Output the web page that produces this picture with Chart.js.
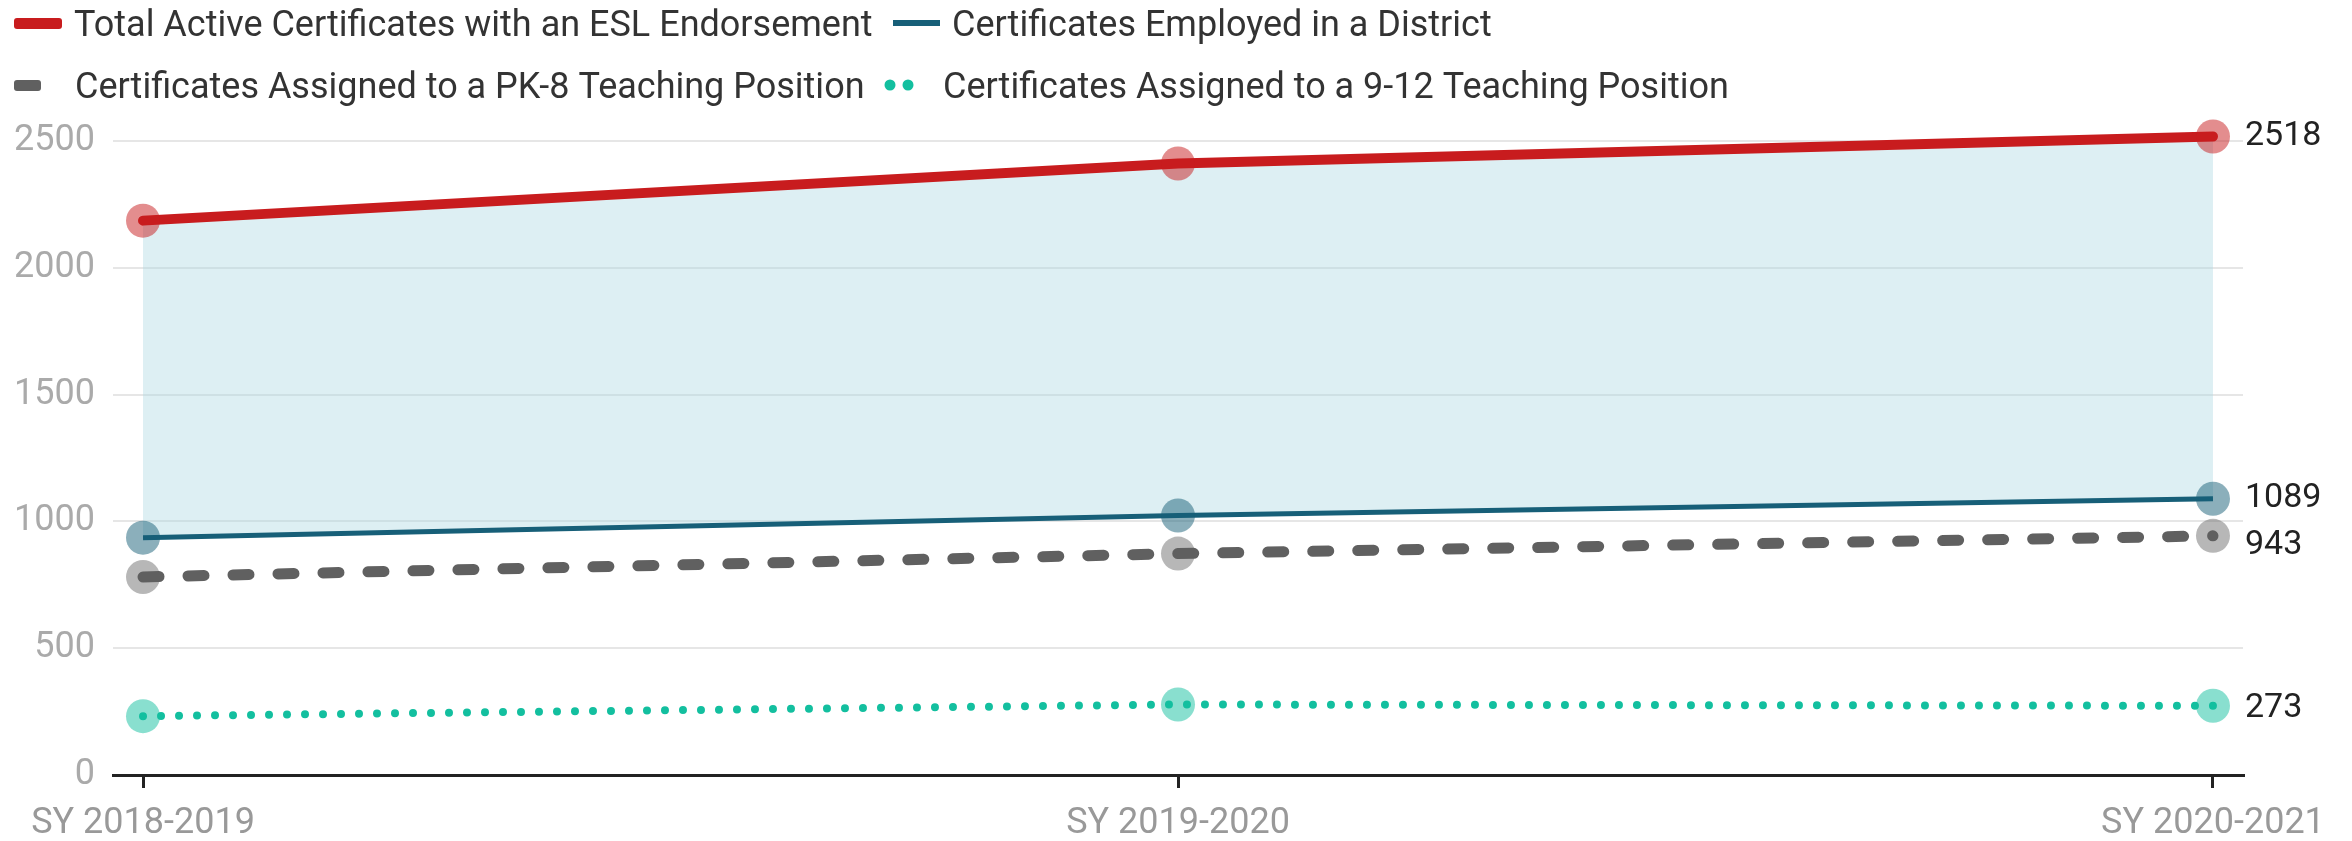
<!DOCTYPE html>
<html>
<head>
<meta charset="utf-8">
<script src="https://cdn.jsdelivr.net/npm/chart.js@4"></script>
<style>
  body { margin: 0; background: #fff; }
  #wrap { width: 2352px; height: 841px; position: relative; }
</style>
</head>
<body>
<div id="wrap"><canvas id="chart1"></canvas></div>
<script>
// school years on the x axis
const years = ['SY 2018-2019', 'SY 2019-2020', 'SY 2020-2021'];

// series values
const totalActive = [2186, 2411, 2518];
const employedDistrict = [936, 1023, 1089];
const assignedPK8 = [781, 873, 943];
const assigned912 = [232, 278, 273];

const yTicks = [0, 500, 1000, 1500, 2000, 2500];

const seriesNames = [
  'Total Active Certificates with an ESL Endorsement',
  'Certificates Employed in a District',
  'Certificates Assigned to a PK-8 Teaching Position',
  'Certificates Assigned to a 9-12 Teaching Position'
];

const FONT = 'Roboto, "Liberation Sans", sans-serif';

function toPoints(arr) {
  return arr.map((v, i) => ({ x: i, y: v }));
}

// legend drawn by hand so the two rows and swatch shapes match
const legendPlugin = {
  id: 'customLegend',
  afterDraw(chart) {
    const c = chart.ctx;
    c.save();
    c.font = '36px ' + FONT;
    c.textBaseline = 'alphabetic';

    // row 1
    c.fillStyle = '#c81c1e';
    c.beginPath();
    c.roundRect(14, 18, 48, 11, 3);
    c.fill();
    c.fillStyle = '#333';
    c.fillText(seriesNames[0], 74, 36);

    c.fillStyle = '#175f78';
    c.fillRect(893, 20, 47, 6);
    c.fillStyle = '#333';
    c.fillText(seriesNames[1], 952, 36);

    // row 2
    c.fillStyle = '#606060';
    c.beginPath();
    c.roundRect(14, 80, 27, 11, 3);
    c.fill();
    c.fillStyle = '#333';
    c.fillText(seriesNames[2], 75, 98);

    c.fillStyle = '#13bf9f';
    [890, 908].forEach(x => {
      c.beginPath();
      c.arc(x, 85, 5.5, 0, Math.PI * 2);
      c.fill();
    });
    c.fillStyle = '#333';
    c.fillText(seriesNames[3], 943, 98);
    c.restore();
  }
};

// value labels at the last point of each line
const endLabels = {
  id: 'endLabels',
  afterDatasetsDraw(chart) {
    const c = chart.ctx;
    const offsets = [0, 0, 10, 3];
    c.save();
    c.font = '34px ' + FONT;
    c.fillStyle = '#222';
    c.textBaseline = 'middle';
    chart.data.datasets.forEach((ds, i) => {
      const pt = chart.getDatasetMeta(i).data[ds.data.length - 1];
      c.fillText(String(ds.data[ds.data.length - 1].y), pt.x + 32, pt.y + offsets[i]);
    });
    c.restore();
  }
};

new Chart(document.getElementById('chart1'), {
  type: 'line',
  data: {
    datasets: [
      {
        label: seriesNames[0],
        data: toPoints(totalActive),
        borderColor: '#c81c1e',
        borderWidth: 10,
        borderCapStyle: 'round',
        pointRadius: 17,
        pointBorderWidth: 0,
        pointBackgroundColor: 'rgba(200,28,30,0.5)',
        fill: { target: 1 },
        backgroundColor: 'rgba(170,215,225,0.4)'
      },
      {
        label: seriesNames[1],
        data: toPoints(employedDistrict),
        borderColor: '#175f78',
        borderWidth: 5,
        pointRadius: 17,
        pointBorderWidth: 0,
        pointBackgroundColor: 'rgba(23,95,120,0.5)',
        fill: false
      },
      {
        label: seriesNames[2],
        data: toPoints(assignedPK8),
        borderColor: '#606060',
        borderWidth: 11,
        borderDash: [16, 29],
        borderCapStyle: 'round',
        pointRadius: 17,
        pointBorderWidth: 0,
        pointBackgroundColor: 'rgba(96,96,96,0.45)',
        fill: false
      },
      {
        label: seriesNames[3],
        data: toPoints(assigned912),
        borderColor: '#13bf9f',
        borderWidth: 8,
        borderDash: [0, 18],
        borderCapStyle: 'round',
        pointRadius: 17,
        pointBorderWidth: 0,
        pointBackgroundColor: 'rgba(19,191,159,0.5)',
        fill: false
      }
    ]
  },
  options: {
    responsive: true,
    maintainAspectRatio: false,
    animation: false,
    clip: false,
    layout: { padding: { top: 141, right: 109, bottom: 0, left: 0 } },
    plugins: {
      legend: { display: false },
      tooltip: { enabled: false },
      filler: { drawTime: 'beforeDatasetsDraw' }
    },
    scales: {
      x: {
        type: 'linear',
        min: -0.029,
        max: 2.029,
        afterBuildTicks: s => { s.ticks = years.map((y, i) => ({ value: i })); },
        afterFit: s => { s.height = 66; },
        grid: {
          drawOnChartArea: false,
          drawTicks: true,
          tickLength: 13,
          color: '#222',
          lineWidth: 3
        },
        border: { display: true, color: '#222', width: 3 },
        ticks: {
          callback: v => years[v],
          color: '#999',
          font: { family: FONT, size: 36 },
          padding: 14,
          maxRotation: 0,
          autoSkip: false
        }
      },
      y: {
        min: 0,
        max: 2500,
        afterBuildTicks: s => { s.ticks = yTicks.map(v => ({ value: v })); },
        afterFit: s => { s.width = 113; },
        grid: { color: '#e6e6e6', lineWidth: 2, drawTicks: false },
        border: { display: false },
        ticks: {
          callback: v => String(v),
          color: '#aaa',
          font: { family: FONT, size: 36 },
          padding: 18
        }
      }
    }
  },
  plugins: [legendPlugin, endLabels]
});
</script>
</body>
</html>
